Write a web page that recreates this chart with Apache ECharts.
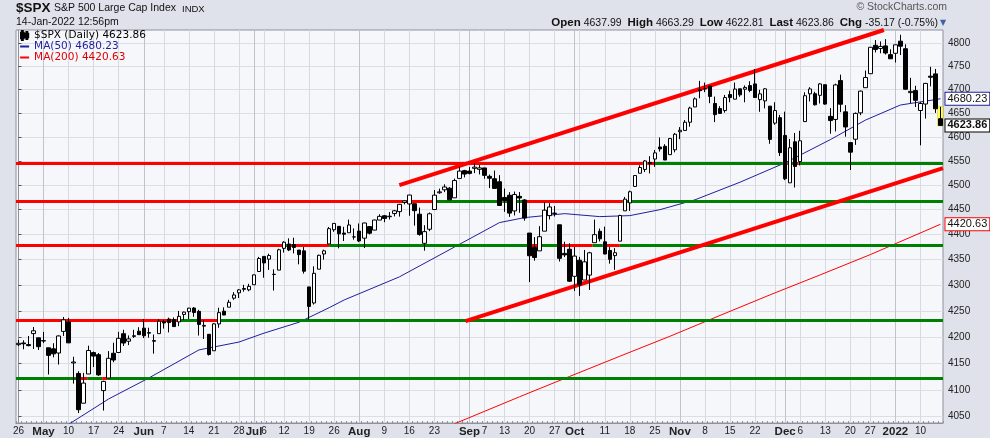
<!DOCTYPE html>
<html>

<head>
    <title>$SPX Daily</title>
    <meta charset="utf-8">
    <script src="https://cdn.jsdelivr.net/npm/echarts@6/dist/echarts.min.js"></script>
    <style>
        html, body { margin: 0; padding: 0; background: #dfe2ea; }
    </style>
</head>

<body>
    <div id="spxChart" style="width: 990px;height:438px;"></div>
    <script>
        // trading days shown on the chart, by month
        var tradingDays = {
            '2021-04': [26, 27, 28, 29, 30],
            '2021-05': [3, 4, 5, 6, 7, 10, 11, 12, 13, 14, 17, 18, 19, 20, 21, 24, 25, 26, 27, 28],
            '2021-06': [1, 2, 3, 4, 7, 8, 9, 10, 11, 14, 15, 16, 17, 18, 21, 22, 23, 24, 25, 28, 29, 30],
            '2021-07': [1, 2, 6, 7, 8, 9, 12, 13, 14, 15, 16, 19, 20, 21, 22, 23, 26, 27, 28, 29, 30],
            '2021-08': [2, 3, 4, 5, 6, 9, 10, 11, 12, 13, 16, 17, 18, 19, 20, 23, 24, 25, 26, 27, 30, 31],
            '2021-09': [1, 2, 3, 7, 8, 9, 10, 13, 14, 15, 16, 17, 20, 21, 22, 23, 24, 27, 28, 29, 30],
            '2021-10': [1, 4, 5, 6, 7, 8, 11, 12, 13, 14, 15, 18, 19, 20, 21, 22, 25, 26, 27, 28, 29],
            '2021-11': [1, 2, 3, 4, 5, 8, 9, 10, 11, 12, 15, 16, 17, 18, 19, 22, 23, 24, 26, 29, 30],
            '2021-12': [1, 2, 3, 6, 7, 8, 9, 10, 13, 14, 15, 16, 17, 20, 21, 22, 23, 27, 28, 29, 30, 31],
            '2022-01': [3, 4, 5, 6, 7, 10, 11, 12, 13, 14]
        };

        var openPx = [
            4185.03, 4188.25, 4185.14, 4206.14, 4198.10, 4191.98, 4179.04, 4177.06, 4169.14, 4210.34,
            4228.29, 4150.34, 4130.55, 4074.99, 4129.58, 4169.92, 4165.94, 4098.45, 4121.97, 4168.61,
            4170.16, 4205.94, 4191.59, 4201.94, 4210.77, 4216.52, 4206.82, 4191.43, 4206.05, 4229.34,
            4233.81, 4232.99, 4228.56, 4242.90, 4248.31, 4255.28, 4248.87, 4220.37, 4204.78, 4173.40,
            4224.61, 4249.27, 4256.97, 4274.45, 4284.90, 4293.21, 4290.65, 4300.73, 4326.60, 4356.46,
            4351.01, 4321.07, 4329.38, 4372.41, 4381.07, 4380.11, 4369.02, 4367.43, 4296.40, 4265.11,
            4331.13, 4361.27, 4381.20, 4409.58, 4416.38, 4402.95, 4403.59, 4395.12, 4406.86, 4392.74,
            4415.95, 4408.86, 4429.07, 4437.77, 4435.79, 4442.18, 4446.08, 4464.84, 4461.65, 4462.12,
            4440.94, 4382.44, 4410.56, 4450.29, 4484.40, 4490.45, 4493.75, 4474.10, 4513.76, 4529.75,
            4528.80, 4534.48, 4532.42, 4535.38, 4518.09, 4513.02, 4506.92, 4474.81, 4479.33, 4447.49,
            4477.09, 4469.74, 4402.95, 4374.45, 4367.43, 4406.75, 4438.04, 4442.12, 4419.54, 4362.41,
            4370.67, 4317.16, 4348.84, 4309.87, 4319.57, 4383.73, 4406.51, 4385.44, 4368.31, 4358.01,
            4386.75, 4447.69, 4463.72, 4497.34, 4524.42, 4532.24, 4546.12, 4553.69, 4578.69, 4580.22,
            4562.84, 4572.87, 4610.62, 4613.34, 4630.65, 4662.93, 4699.26, 4701.48, 4707.25, 4670.26,
            4659.39, 4655.24, 4689.30, 4679.42, 4701.50, 4700.72, 4708.44, 4712.00, 4678.48, 4675.78,
            4664.63, 4628.75, 4640.25, 4602.82, 4504.73, 4589.49, 4548.37, 4631.97, 4690.86, 4691.00,
            4687.64, 4710.30, 4642.99, 4636.46, 4719.13, 4652.50, 4587.90, 4594.96, 4650.36, 4703.96,
            4733.99, 4795.49, 4788.64, 4794.23, 4775.21, 4778.14, 4804.51, 4787.99, 4693.39, 4697.66,
            4655.34, 4669.14, 4728.59, 4733.56, 4637.99
        ];
        var highPx = [
            4194.19, 4193.35, 4201.53, 4218.78, 4198.10, 4209.39, 4179.04, 4187.72, 4202.70, 4238.04,
            4236.39, 4162.04, 4134.73, 4131.58, 4183.13, 4171.92, 4169.15, 4116.93, 4172.80, 4188.72,
            4209.52, 4213.42, 4202.61, 4213.38, 4218.36, 4234.12, 4217.37, 4204.39, 4233.45, 4232.34,
            4236.74, 4237.09, 4249.74, 4248.38, 4255.59, 4257.16, 4251.89, 4232.29, 4204.78, 4226.24,
            4255.84, 4256.60, 4271.28, 4286.12, 4292.14, 4300.52, 4302.43, 4320.66, 4355.43, 4356.46,
            4361.88, 4330.88, 4371.60, 4386.68, 4392.37, 4393.68, 4369.02, 4375.09, 4296.40, 4336.84,
            4359.70, 4369.87, 4415.18, 4422.73, 4416.38, 4415.47, 4429.97, 4412.25, 4422.18, 4423.79,
            4416.17, 4429.76, 4440.82, 4439.39, 4445.21, 4449.44, 4461.77, 4468.37, 4480.26, 4462.12,
            4454.32, 4418.61, 4444.35, 4489.88, 4492.81, 4501.71, 4495.90, 4513.33, 4537.36, 4531.39,
            4537.11, 4545.85, 4541.45, 4535.38, 4521.79, 4529.90, 4520.47, 4492.99, 4485.68, 4486.87,
            4485.87, 4471.52, 4402.95, 4394.87, 4416.75, 4465.40, 4463.12, 4457.30, 4419.54, 4385.57,
            4382.55, 4375.19, 4355.51, 4369.23, 4365.57, 4429.97, 4412.02, 4415.88, 4374.89, 4372.87,
            4439.73, 4475.82, 4488.75, 4520.40, 4540.87, 4551.44, 4559.67, 4572.62, 4598.53, 4584.57,
            4597.55, 4608.08, 4620.34, 4635.15, 4663.46, 4683.00, 4718.50, 4714.92, 4708.53, 4684.85,
            4664.55, 4688.47, 4697.42, 4714.95, 4701.50, 4708.80, 4717.75, 4743.83, 4699.39, 4702.87,
            4664.63, 4672.95, 4646.02, 4652.94, 4595.46, 4608.03, 4612.60, 4694.04, 4705.06, 4695.26,
            4713.57, 4710.30, 4660.47, 4712.60, 4731.99, 4666.70, 4587.90, 4651.14, 4697.67, 4740.74,
            4791.49, 4807.02, 4804.06, 4808.93, 4786.83, 4796.64, 4818.62, 4797.70, 4725.01, 4707.95,
            4673.02, 4714.13, 4748.83, 4744.13, 4663.29
        ];
        var lowPx = [
            4182.36, 4176.22, 4181.78, 4176.81, 4174.85, 4188.03, 4128.59, 4160.94, 4147.33, 4201.64,
            4188.13, 4111.53, 4056.88, 4074.99, 4129.58, 4142.69, 4125.99, 4061.41, 4121.97, 4151.72,
            4170.16, 4182.52, 4184.11, 4197.78, 4203.57, 4197.59, 4198.27, 4167.93, 4206.05, 4215.66,
            4208.41, 4218.74, 4220.34, 4232.25, 4234.07, 4238.35, 4202.45, 4196.05, 4164.40, 4173.40,
            4217.27, 4241.43, 4256.97, 4271.16, 4274.67, 4287.04, 4287.96, 4300.73, 4326.60, 4314.37,
            4329.79, 4289.37, 4329.38, 4364.03, 4366.92, 4362.36, 4340.70, 4322.53, 4233.13, 4262.05,
            4331.13, 4350.06, 4381.20, 4405.45, 4372.51, 4387.01, 4403.59, 4389.65, 4384.81, 4373.00,
            4400.23, 4408.86, 4429.07, 4424.74, 4430.03, 4436.42, 4435.96, 4460.82, 4437.66, 4417.83,
            4397.59, 4367.73, 4406.80, 4450.29, 4482.28, 4485.66, 4468.99, 4474.10, 4513.76, 4515.80,
            4522.02, 4524.66, 4521.94, 4513.00, 4493.95, 4492.07, 4457.66, 4445.70, 4435.46, 4438.37,
            4443.80, 4427.76, 4305.91, 4347.96, 4367.43, 4406.75, 4430.27, 4436.19, 4346.33, 4355.08,
            4306.24, 4288.52, 4278.94, 4309.87, 4290.49, 4383.73, 4386.22, 4360.59, 4342.09, 4329.92,
            4386.75, 4447.69, 4447.47, 4496.41, 4524.40, 4526.89, 4524.00, 4537.36, 4569.17, 4551.66,
            4562.84, 4567.59, 4595.06, 4613.34, 4621.19, 4662.59, 4681.32, 4694.39, 4670.87, 4630.86,
            4648.31, 4650.77, 4672.86, 4679.42, 4684.41, 4672.78, 4694.22, 4682.17, 4652.66, 4659.89,
            4585.43, 4625.26, 4560.00, 4510.27, 4504.73, 4495.12, 4540.51, 4631.97, 4674.52, 4665.98,
            4670.24, 4667.60, 4606.52, 4611.22, 4651.89, 4600.22, 4531.10, 4583.16, 4645.53, 4703.96,
            4733.99, 4780.04, 4778.08, 4775.33, 4765.75, 4758.17, 4774.27, 4699.44, 4671.26, 4662.74,
            4582.24, 4638.27, 4706.71, 4650.29, 4622.81
        ];
        var closePx = [
            4187.62, 4186.72, 4183.18, 4211.47, 4181.17, 4192.66, 4164.66, 4167.59, 4201.62, 4232.60,
            4188.43, 4152.10, 4063.04, 4112.50, 4173.85, 4163.29, 4127.83, 4115.68, 4159.12, 4155.86,
            4197.05, 4188.13, 4195.99, 4200.88, 4204.11, 4202.04, 4208.12, 4192.85, 4229.89, 4226.52,
            4227.26, 4219.55, 4239.18, 4247.44, 4255.15, 4246.59, 4223.70, 4221.86, 4166.45, 4224.79,
            4246.44, 4241.84, 4266.49, 4280.70, 4290.61, 4291.80, 4297.50, 4319.94, 4352.34, 4343.54,
            4358.13, 4320.82, 4369.55, 4384.63, 4369.21, 4374.30, 4360.03, 4327.16, 4258.49, 4323.06,
            4358.69, 4367.48, 4411.79, 4422.30, 4401.46, 4400.64, 4419.15, 4395.26, 4387.16, 4423.15,
            4402.66, 4429.10, 4436.52, 4432.35, 4436.75, 4447.70, 4460.83, 4468.00, 4479.71, 4448.08,
            4400.27, 4405.80, 4441.67, 4479.53, 4486.23, 4496.19, 4470.00, 4509.37, 4528.79, 4522.68,
            4524.09, 4536.95, 4535.43, 4520.03, 4514.07, 4493.28, 4458.58, 4468.73, 4443.05, 4480.70,
            4473.75, 4432.99, 4357.73, 4354.19, 4395.64, 4448.98, 4455.48, 4443.11, 4352.63, 4359.46,
            4307.54, 4357.04, 4300.46, 4345.72, 4363.55, 4399.76, 4391.34, 4361.19, 4350.65, 4363.80,
            4438.26, 4471.37, 4486.46, 4519.63, 4536.19, 4549.78, 4544.90, 4566.48, 4574.79, 4551.68,
            4596.42, 4605.38, 4613.67, 4630.65, 4660.57, 4680.06, 4697.53, 4701.70, 4685.25, 4646.71,
            4649.27, 4682.85, 4682.80, 4700.90, 4688.67, 4704.54, 4697.96, 4682.94, 4690.70, 4701.46,
            4594.62, 4655.27, 4567.00, 4513.04, 4577.10, 4538.43, 4591.67, 4686.75, 4701.21, 4667.45,
            4712.02, 4668.97, 4634.09, 4709.85, 4668.67, 4620.64, 4568.02, 4649.23, 4696.56, 4725.79,
            4791.19, 4786.35, 4793.06, 4778.73, 4766.18, 4796.56, 4793.54, 4700.58, 4696.05, 4677.03,
            4670.29, 4713.07, 4726.35, 4659.03, 4623.86
        ];

        // moving averages at a few dates
        var ma50Points = [
            ['2021-05-10', 4036], ['2021-05-20', 4083], ['2021-06-02', 4122], ['2021-06-16', 4175],
            ['2021-06-28', 4190], ['2021-07-06', 4207], ['2021-07-15', 4228], ['2021-07-23', 4256],
            ['2021-07-28', 4271], ['2021-08-12', 4316], ['2021-08-27', 4375], ['2021-09-10', 4424],
            ['2021-09-17', 4434], ['2021-09-29', 4442], ['2021-10-08', 4436], ['2021-10-18', 4438],
            ['2021-10-26', 4450], ['2021-11-04', 4470], ['2021-11-17', 4506], ['2021-12-01', 4546],
            ['2021-12-14', 4594], ['2021-12-23', 4635], ['2022-01-04', 4667], ['2022-01-14', 4680.23]
        ];
        var ma200Points = [
            ['2021-08-27', 4037], ['2021-09-16', 4087], ['2021-09-30', 4125], ['2021-10-14', 4163],
            ['2021-10-28', 4201], ['2021-11-11', 4241], ['2021-11-26', 4281], ['2021-12-10', 4320],
            ['2021-12-27', 4360], ['2022-01-14', 4420.63]
        ];

        // drawn support / resistance levels: [price, from bar, to bar]
        var redLevels = [
            [4546, -0.5, 124.6], [4546, 125.5, 127], [4546, 152.5, 153.5], [4546, 154.6, 155.7],
            [4467, -0.5, 82.6], [4467, 95.6, 96.6], [4467, 97.6, 98.6], [4467, 100.6, 120.6],
            [4378, -0.5, 52.6], [4378, 53.6, 62], [4378, 102, 103.6], [4378, 107.6, 114.6], [4378, 116.6, 120],
            [4231, -0.5, 32.1], [4231, 35.7, 39.7],
            [4122, 11.7, 13.7], [4122, 16.7, 17.7]
        ];
        var greenLevels = [
            [4546, 124.6, 125.5], [4546, 127, 152.5], [4546, 153.5, 154.6], [4546, 155.7, 184.5],
            [4467, 82.6, 95.6], [4467, 96.6, 97.6], [4467, 98.6, 100.6], [4467, 120.6, 184.5],
            [4378, 52.6, 53.6], [4378, 62, 102], [4378, 103.6, 107.6], [4378, 114.6, 116.6], [4378, 120, 184.5],
            [4231, 32.1, 35.7], [4231, 39.7, 184.5],
            [4122, -0.5, 11.7], [4122, 13.7, 16.7], [4122, 17.7, 184.5]
        ];
        // channel lines: [from bar, price, to bar, price]
        var trendLines = [
            [76.0, 4500, 172.7, 4829],
            [89.2, 4230, 184.5, 4535]
        ];

        var yTicks = [4050, 4100, 4150, 4200, 4250, 4300, 4350, 4400, 4450, 4500, 4550, 4600, 4650, 4700, 4750, 4800];
        var xLabels = [
            ['2021-04-26', '26'], ['2021-05-03', 'May'], ['2021-05-10', '10'], ['2021-05-17', '17'], ['2021-05-24', '24'],
            ['2021-06-01', 'Jun'], ['2021-06-07', '7'], ['2021-06-14', '14'], ['2021-06-21', '21'], ['2021-06-28', '28'],
            ['2021-07-01', 'Jul'], ['2021-07-06', '6'], ['2021-07-12', '12'], ['2021-07-19', '19'], ['2021-07-26', '26'],
            ['2021-08-02', 'Aug'], ['2021-08-09', '9'], ['2021-08-16', '16'], ['2021-08-23', '23'],
            ['2021-09-01', 'Sep'], ['2021-09-07', '7'], ['2021-09-13', '13'], ['2021-09-20', '20'], ['2021-09-27', '27'],
            ['2021-10-01', 'Oct'], ['2021-10-11', '11'], ['2021-10-18', '18'], ['2021-10-25', '25'],
            ['2021-11-01', 'Nov'], ['2021-11-08', '8'], ['2021-11-15', '15'], ['2021-11-22', '22'],
            ['2021-12-01', 'Dec'], ['2021-12-06', '6'], ['2021-12-13', '13'], ['2021-12-20', '20'], ['2021-12-27', '27'],
            ['2022-01-03', '2022'], ['2022-01-10', '10']
        ];
        var weekGrid = [
            '2021-04-26', '2021-05-10', '2021-05-17', '2021-05-24', '2021-06-07', '2021-06-14', '2021-06-21',
            '2021-06-28', '2021-07-06', '2021-07-12', '2021-07-19', '2021-07-26', '2021-08-09', '2021-08-16',
            '2021-08-23', '2021-08-30', '2021-09-07', '2021-09-13', '2021-09-20', '2021-09-27', '2021-10-04',
            '2021-10-11', '2021-10-18', '2021-10-25', '2021-11-08', '2021-11-15', '2021-11-22', '2021-11-29',
            '2021-12-06', '2021-12-13', '2021-12-20', '2021-12-27', '2022-01-10'
        ];
        var monthGrid = ['2021-05-03', '2021-06-01', '2021-07-01', '2021-08-02', '2021-09-01', '2021-10-01', '2021-11-01', '2021-12-01', '2022-01-03'];

        var dates = [];
        Object.keys(tradingDays).forEach(function (m) {
            tradingDays[m].forEach(function (d) {
                dates.push(m + '-' + (d < 10 ? '0' + d : d));
            });
        });
        var last = dates.length - 1;
        var candles = dates.map(function (d, i) {
            return [openPx[i], closePx[i], lowPx[i], highPx[i]];
        });
        var labelMap = {};
        xLabels.forEach(function (l) { labelMap[l[0]] = l[1]; });
        var weekIdx = weekGrid.map(function (d) { return dates.indexOf(d); });
        var monthIdx = monthGrid.map(function (d) { return dates.indexOf(d); });

        var chg = closePx[last] - closePx[last - 1];
        var chgPct = chg / closePx[last - 1] * 100;
        var legendValues = {
            '$SPX (Daily)': closePx[last].toFixed(2),
            'MA(50)': ma50Points[ma50Points.length - 1][1].toFixed(2),
            'MA(200)': ma200Points[ma200Points.length - 1][1].toFixed(2)
        };

        var levelLines = [];
        redLevels.forEach(function (l) {
            levelLines.push([{ coord: [l[1], l[0]], lineStyle: { color: '#ff0000', width: 3, type: 'solid' } }, { coord: [l[2], l[0]] }]);
        });
        greenLevels.forEach(function (l) {
            levelLines.push([{ coord: [l[1], l[0]], lineStyle: { color: '#008000', width: 3, type: 'solid' } }, { coord: [l[2], l[0]] }]);
        });
        trendLines.forEach(function (t) {
            levelLines.push([{ coord: [t[0], t[1]], lineStyle: { color: '#ff0000', width: 4, type: 'solid' } }, { coord: [t[2], t[3]] }]);
        });

        var tagLabel = function (border, bold) {
            return {
                show: true, fontSize: 11, color: '#111', fontWeight: bold ? 'bold' : 'normal',
                backgroundColor: '#ffffff', borderColor: border, borderWidth: 1, padding: [1, 2, 0, 2]
            };
        };

        var chartDom = document.getElementById('spxChart');
        var myChart = echarts.init(chartDom);
        var option = {
            animation: false,
            backgroundColor: '#dfe2ea',
            textStyle: { fontFamily: 'Liberation Sans, Arial, sans-serif' },
            title: [
                { text: '$SPX', left: 16, top: 1, padding: 0, textStyle: { fontSize: 13.5, fontWeight: 'bold', color: '#111' } },
                { text: 'S&P 500 Large Cap Index', left: 54, top: 3, padding: 0, textStyle: { fontSize: 10.5, fontWeight: 'normal', color: '#111' } },
                { text: 'INDX', left: 182, top: 4, padding: 0, textStyle: { fontSize: 9.5, fontWeight: 'normal', color: '#111' } },
                { text: '14-Jan-2022 12:56pm', left: 16, top: 17, padding: 0, textStyle: { fontSize: 10.5, fontWeight: 'normal', color: '#111' } },
                { text: '\u00a9 StockCharts.com', right: 43, top: 2, padding: 0, textStyle: { fontSize: 10.5, fontWeight: 'normal', color: '#555' } },
                {
                    text: '{b|Open} ' + openPx[last].toFixed(2) + '  {b|High} ' + highPx[last].toFixed(2) +
                        '  {b|Low} ' + lowPx[last].toFixed(2) + '  {b|Last} ' + closePx[last].toFixed(2) +
                        '  {b|Chg} ' + chg.toFixed(2) + ' (' + chgPct.toFixed(2) + '%)',
                    right: 52, top: 17, padding: 0,
                    textStyle: { fontSize: 10.5, fontWeight: 'normal', color: '#111', rich: { b: { fontSize: 11.5, fontWeight: 'bold', color: '#111' } } }
                },
                { text: '\u25bc', left: 940, top: 19, padding: 0, textStyle: { fontSize: 8, fontFamily: 'DejaVu Sans', color: '#3e64a8' } }
            ],
            legend: {
                orient: 'vertical',
                left: 20,
                top: 30,
                padding: 0,
                itemGap: 0,
                itemWidth: 9,
                itemHeight: 9,
                selectedMode: false,
                textStyle: { fontFamily: 'DejaVu Sans', fontSize: 10.5, lineHeight: 11 },
                formatter: function (name) { return name + ' ' + legendValues[name]; },
                data: [
                    { name: '$SPX (Daily)', icon: 'path://M2,0V2H1V8H2V10H3V8H4V2H3V0ZM7,1V3H6V7H7V9H8V7H9V3H8V1Z', itemStyle: { color: '#000' }, textStyle: { color: '#000' } },
                    { name: 'MA(50)', icon: 'path://M0,0H9V2H0Z', itemStyle: { color: '#1f1f9e' }, textStyle: { color: '#1f1f9e' } },
                    { name: 'MA(200)', icon: 'path://M0,0H9V2H0Z', itemStyle: { color: '#ff0000' }, textStyle: { color: '#e00000' } }
                ]
            },
            grid: {
                left: 16,
                right: 47,
                top: 30,
                bottom: 15,
                show: true,
                backgroundColor: '#f6f7fb',
                borderColor: '#8f929b',
                borderWidth: 1
            },
            xAxis: [
                {
                    type: 'category',
                    data: dates,
                    boundaryGap: true,
                    axisLine: { show: true, lineStyle: { color: '#8f929b' } },
                    axisTick: { show: true, interval: 0, inside: true, length: 2, lineStyle: { color: '#8f929b' } },
                    axisLabel: {
                        interval: function (index, value) { return labelMap[value] !== undefined; },
                        formatter: function (value) {
                            var t = labelMap[value];
                            if (t === undefined) return '';
                            return /^\d+$/.test(t) && t.length < 4 ? t : '{m|' + t + '}';
                        },
                        margin: 3,
                        fontSize: 10,
                        color: '#222',
                        rich: { m: { fontSize: 11.5, fontWeight: 'bold', color: '#222' } }
                    },
                    splitLine: { show: false }
                },
                {
                    type: 'value', min: -0.5, max: 184.5,
                    axisLine: { show: false }, axisLabel: { show: false },
                    axisTick: { show: false, customValues: weekIdx },
                    splitLine: { show: true, lineStyle: { color: '#d8dae2' } }
                },
                {
                    type: 'value', min: -0.5, max: 184.5,
                    axisLine: { show: false }, axisLabel: { show: false },
                    axisTick: { show: false, customValues: monthIdx },
                    splitLine: { show: true, lineStyle: { color: '#c0c3cd' } }
                }
            ],
            yAxis: {
                type: 'log',
                logBase: 10,
                min: 4038.5,
                max: 4829,
                position: 'right',
                axisLine: { show: true, lineStyle: { color: '#8f929b' } },
                axisTick: { show: true, length: 3, customValues: yTicks, lineStyle: { color: '#555' } },
                axisLabel: {
                    customValues: yTicks,
                    formatter: function (v) { return String(Math.round(v)); },
                    fontSize: 10,
                    color: '#222',
                    margin: 5
                },
                splitLine: { show: true, lineStyle: { color: '#dcdee5' } }
            },
            series: [
                {
                    name: 'highlight',
                    type: 'line',
                    xAxisIndex: 1,
                    data: [],
                    z: 1,
                    markArea: {
                        silent: true,
                        itemStyle: { color: '#ffff55', borderColor: '#caca20', borderWidth: 0.5 },
                        data: [[{ coord: [183.4, highPx[last]] }, { coord: [184.6, lowPx[last]] }]]
                    }
                },
                {
                    name: '$SPX (Daily)',
                    type: 'candlestick',
                    data: candles,
                    barWidth: 4,
                    z: 5,
                    itemStyle: {
                        color: '#ffffff',
                        color0: '#000000',
                        borderColor: '#000000',
                        borderColor0: '#000000',
                        borderWidth: 1
                    }
                },
                {
                    name: 'MA(50)',
                    type: 'line',
                    data: ma50Points,
                    symbol: 'none',
                    z: 4,
                    lineStyle: { color: '#1f1f9e', width: 1 },
                    itemStyle: { color: '#1f1f9e' },
                    endLabel: Object.assign(tagLabel('#1f1f9e', false), {
                        distance: 5,
                        formatter: function (p) { return p.value[1].toFixed(2); }
                    })
                },
                {
                    name: 'MA(200)',
                    type: 'line',
                    data: ma200Points,
                    symbol: 'none',
                    z: 4,
                    lineStyle: { color: '#ff0000', width: 1 },
                    itemStyle: { color: '#ff0000' },
                    endLabel: Object.assign(tagLabel('#ff0000', false), {
                        distance: 5,
                        formatter: function (p) { return p.value[1].toFixed(2); }
                    })
                },
                {
                    name: 'annotations',
                    type: 'line',
                    xAxisIndex: 1,
                    data: [],
                    z: 6,
                    markLine: {
                        silent: true,
                        symbol: ['none', 'none'],
                        label: { show: false },
                        lineStyle: { type: 'solid' },
                        data: levelLines
                    },
                    markPoint: {
                        silent: true,
                        symbol: 'rect',
                        symbolSize: 0,
                        data: [{ coord: [last, closePx[last]] }],
                        label: Object.assign(tagLabel('#000000', true), {
                            position: 'right',
                            distance: 5,
                            formatter: closePx[last].toFixed(2)
                        })
                    }
                }
            ]
        };
        myChart.setOption(option);
    </script>
</body>

</html>
